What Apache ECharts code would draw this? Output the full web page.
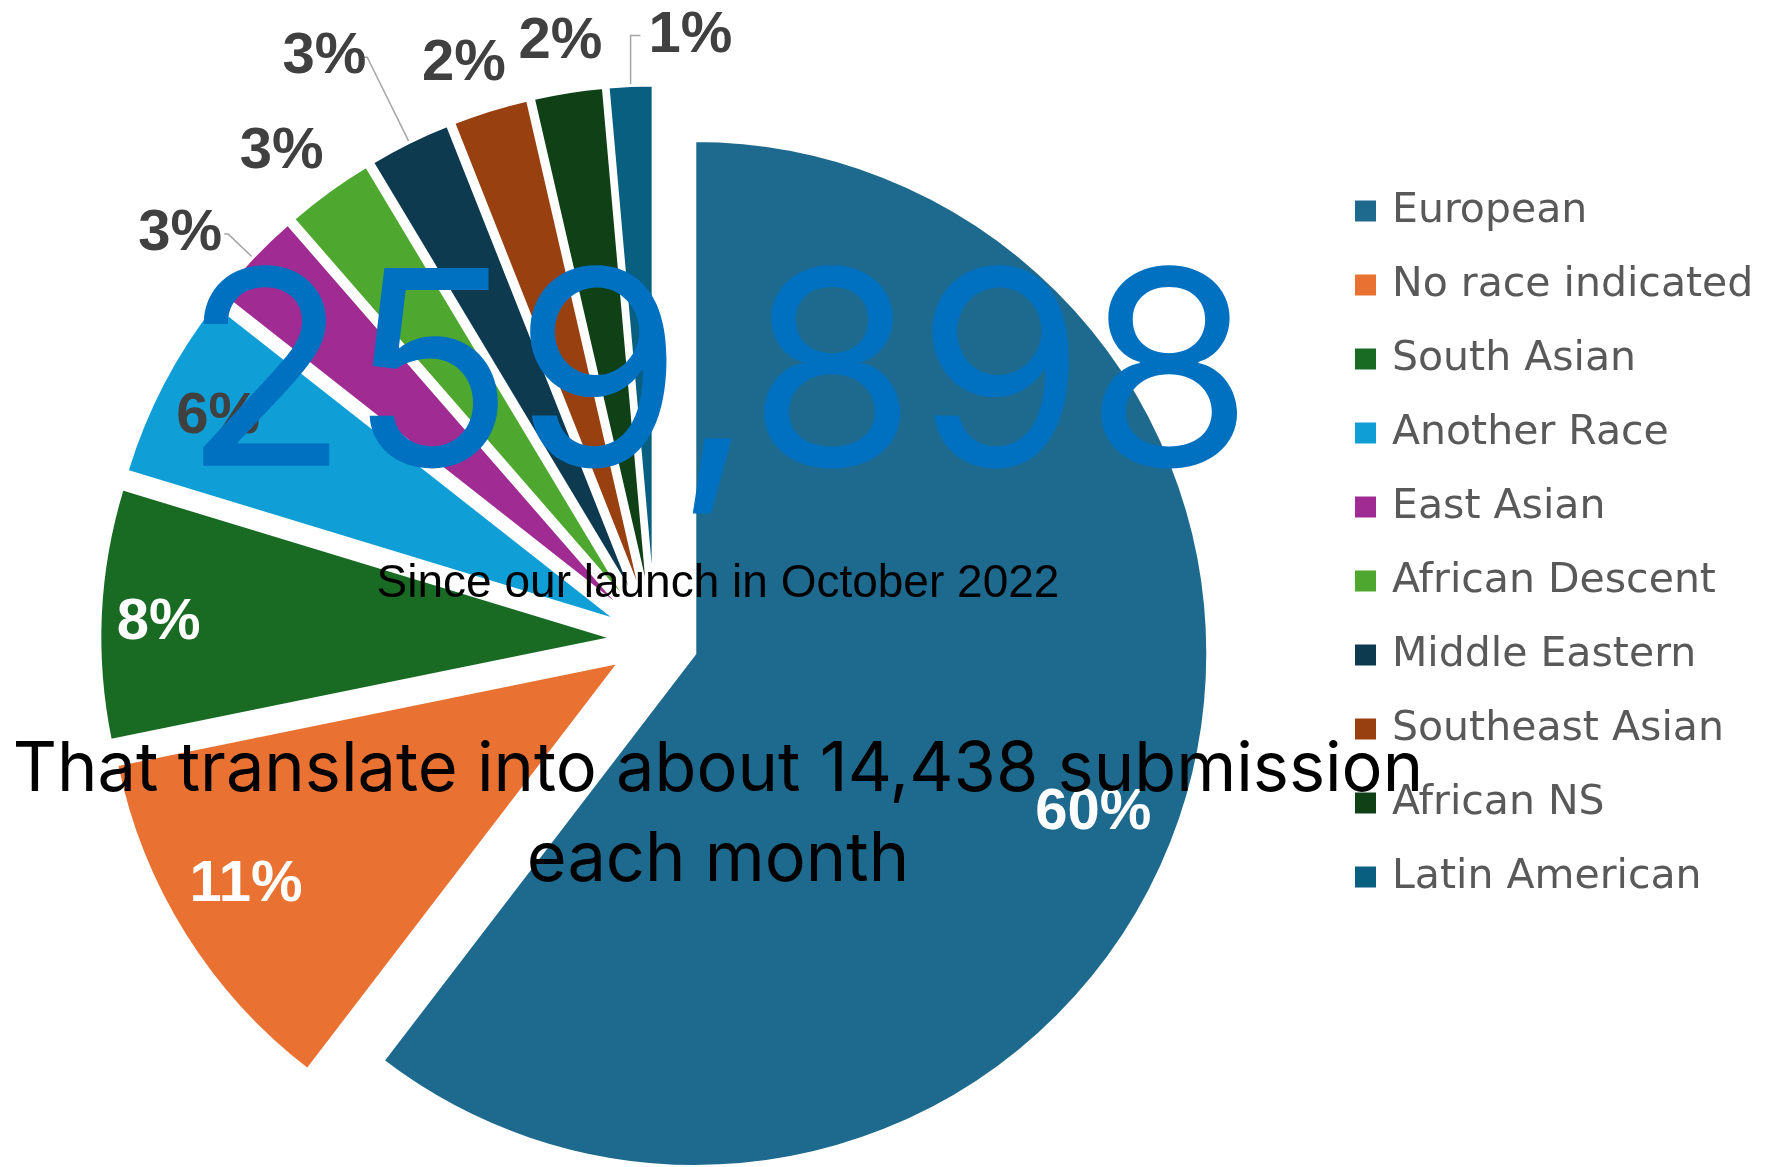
<!DOCTYPE html>
<html>
<head>
<meta charset="utf-8">
<title>Submissions by race</title>
<script src="https://cdn.jsdelivr.net/npm/echarts@6.0.0/dist/echarts.min.js"></script>
<style>
  html, body { margin: 0; padding: 0; background: #ffffff; }
  #chart { width: 1767px; height: 1167px; }
</style>
</head>
<body>
<div id="chart"></div>
<script>
// Share of submissions by race (percent of all submissions)
const categories = [
  'European', 'No race indicated', 'South Asian', 'Another Race', 'East Asian',
  'African Descent', 'Middle Eastern', 'Southeast Asian', 'African NS', 'Latin American'
];
const shares = [60.4, 11.4, 7.9, 5.9, 3.0, 2.8, 2.6, 2.4, 2.2, 1.4];

// Headline texts
const totalSubmissions = '259,898';
const sinceText = 'Since our launch in October 2022';
const monthlyText = 'That translate into about 14,438 submission\neach month';

// Slice colours
const colors = ['#1E6A8E', '#E97132', '#196B24', '#0F9ED5', '#A02B93',
                '#4EA72E', '#0D3A4E', '#994010', '#0F4016', '#095F80'];

// How each percentage label is placed
const labelPlacement = {
  'European':          { inside: true, color: '#ffffff', nudge: [-22, 17] },
  'No race indicated': { inside: true, color: '#ffffff', nudge: [3, -13] },
  'South Asian':       { inside: true, color: '#ffffff', nudge: [-11, 6] },
  'Another Race':      { inside: true, color: '#404040', nudge: [-6, 2] },
  'East Asian':        { length: 34, length2: 4,  distance: 2,   line: true },
  'African Descent':   { length: 48, length2: 0,  distance: -23, line: false },
  'Middle Eastern':    { length: 95, length2: 4,  distance: -3,  line: true },
  'Southeast Asian':   { length: 48, length2: 0,  distance: -30, line: false },
  'African NS':        { length: 50, length2: 0,  distance: -42, line: false },
  'Latin American':    { length: 50, length2: -12, distance: -92, line: true }
};

const total = shares.reduce((a, b) => a + b, 0);
const pctLabel = p => Math.round(p.value / total * 100) + '%';

const CENTER = [655, 640];
const RADIUS = 513;
const EXPLODE = 42;

const sliceData = categories.map((name, i) => ({
  name, value: shares[i], selected: true,
  itemStyle: { color: colors[i] }
}));

const labelData = categories.map((name, i) => {
  const cfg = labelPlacement[name];
  if (cfg.inside) {
    return {
      name, value: shares[i], selected: true,
      label: { position: 'inside', color: cfg.color },
      labelLine: { show: false }
    };
  }
  return {
    name, value: shares[i], selected: true,
    label: { position: 'outside', distanceToLabelLine: cfg.distance },
    labelLine: { show: cfg.line, length: cfg.length, length2: cfg.length2 }
  };
});

const chart = echarts.init(document.getElementById('chart'), null, { renderer: 'canvas' });

chart.setOption({
  animation: false,
  backgroundColor: '#ffffff',
  legend: {
    orient: 'vertical',
    left: 1348,
    top: 183,
    itemWidth: 23,
    itemHeight: 23,
    itemGap: 28,
    icon: 'rect',
    selectedMode: false,
    data: categories,
    textStyle: {
      fontFamily: 'DejaVu Sans',
      fontSize: 41,
      lineHeight: 46,
      color: '#595959',
      padding: [0, 0, 0, 10]
    }
  },
  series: [
    {
      name: 'Race',
      type: 'pie',
      center: CENTER,
      radius: [0, RADIUS],
      startAngle: 90,
      clockwise: true,
      selectedMode: 'multiple',
      selectedOffset: EXPLODE,
      avoidLabelOverlap: false,
      label: { show: false },
      labelLine: { show: false },
      itemStyle: { borderColor: '#ffffff', borderWidth: 3 },
      select: { itemStyle: { borderColor: '#ffffff', borderWidth: 3 } },
      emphasis: { disabled: true },
      data: sliceData
    },
    {
      name: 'Labels',
      type: 'pie',
      center: CENTER,
      radius: [369, RADIUS],
      startAngle: 90,
      clockwise: true,
      selectedMode: 'multiple',
      selectedOffset: EXPLODE,
      avoidLabelOverlap: false,
      silent: true,
      itemStyle: { color: 'rgba(0,0,0,0)', borderWidth: 0 },
      select: { itemStyle: { color: 'rgba(0,0,0,0)', borderWidth: 0 } },
      emphasis: { disabled: true },
      label: {
        show: true,
        position: 'outside',
        formatter: pctLabel,
        fontFamily: 'Liberation Sans',
        fontWeight: 'bold',
        fontSize: 58,
        color: '#404040'
      },
      labelLine: {
        show: true,
        smooth: false,
        lineStyle: { color: '#A6A6A6', width: 1.5 }
      },
      labelLayout: p => {
        const nudge = labelPlacement[categories[p.dataIndex]].nudge;
        return nudge ? { dx: nudge[0], dy: nudge[1] } : {};
      },
      data: labelData
    }
  ],
  graphic: [
    {
      type: 'text', z: 100,
      style: {
        text: totalSubmissions, x: 718, y: 384,
        align: 'center', verticalAlign: 'middle',
        font: '272px Inter', fill: '#0070C0'
      }
    },
    {
      type: 'text', z: 100,
      style: {
        text: sinceText, x: 718, y: 584,
        align: 'center', verticalAlign: 'middle',
        font: '46px "Liberation Sans"', fill: '#000000'
      }
    },
    {
      type: 'text', z: 100,
      style: {
        text: monthlyText, x: 718, y: 815,
        align: 'center', verticalAlign: 'middle',
        font: '68.5px Inter', lineHeight: 90, fill: '#000000'
      }
    }
  ]
});
</script>
</body>
</html>
